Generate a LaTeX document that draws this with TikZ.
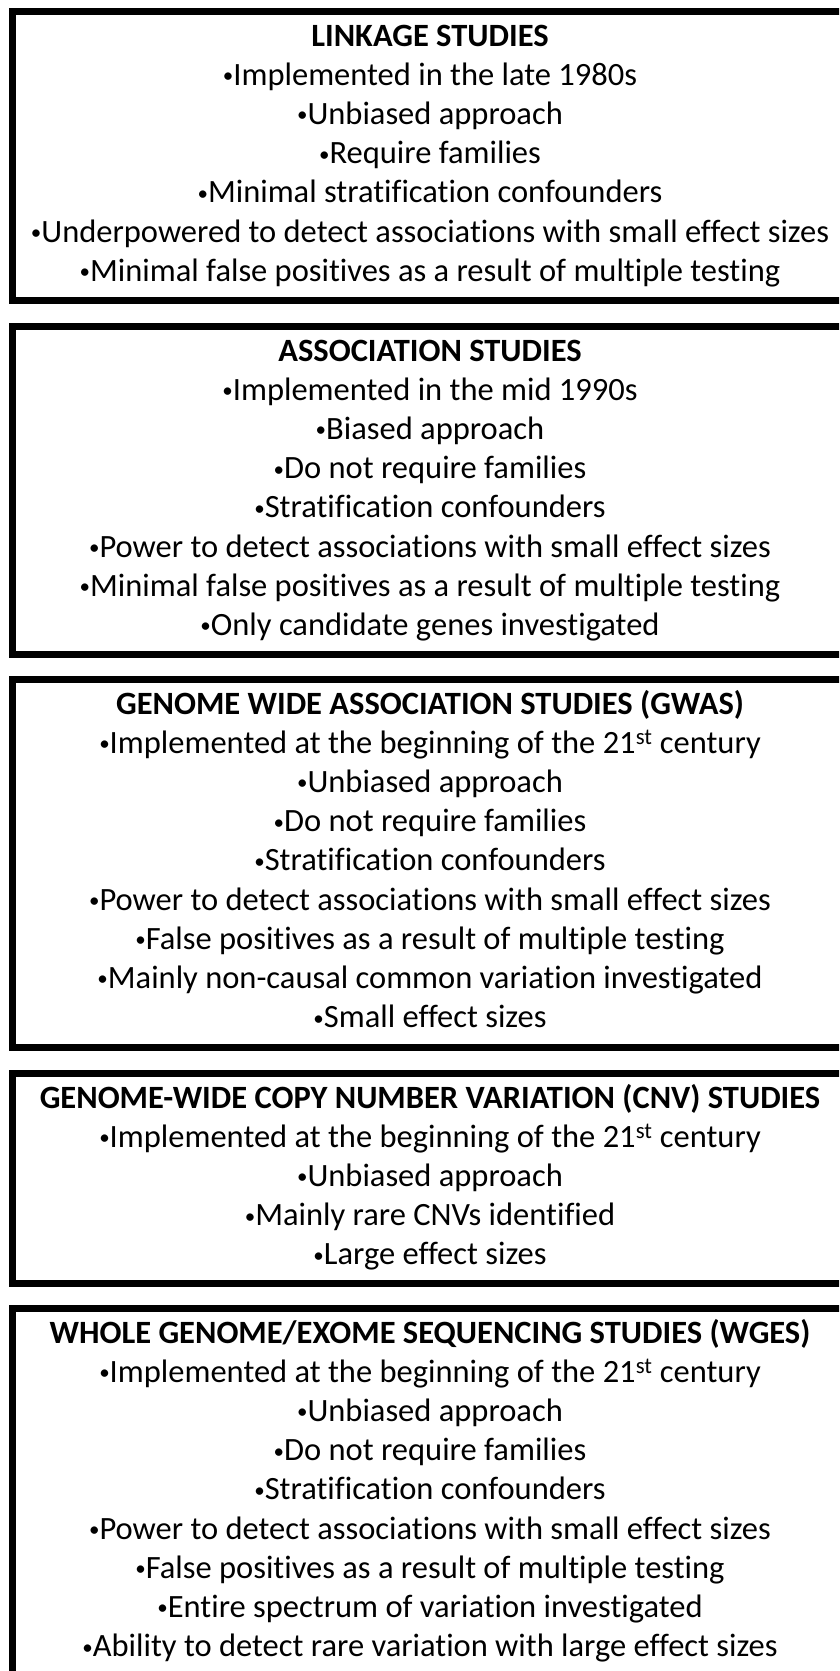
\documentclass[tikz,border=0pt]{standalone}
\usepackage{fontspec}
\setmainfont{Carlito}[Ligatures=NoCommon]
% small raised bullet placed in front of every item
\newcommand{\itemdot}{{\fontsize{21}{21}\selectfont\raisebox{2.5pt}{•}}}
% One framed panel: #1 id, #2 top edge, #3 bottom edge, #4 heading, #5 bullet items
\newcommand{\studypanel}[5]{%
  \node[heading] (#1-h) at (430,#2+35) {#4};
  \foreach \t [count=\i] in {#5} {
    \node[entry] (#1-\i) at (430,#2+35+\i*39.2) {\itemdot\t};
  }
  \draw[frame] (12.5,#2) rectangle (866,#3);
}
\begin{document}
\begin{tikzpicture}[x=1pt,y=-1pt,
  frame/.style={line width=7pt,draw=black},
  entry/.style={anchor=base,inner sep=0pt,font=\fontsize{32.5}{39}\selectfont},
  heading/.style={entry,font=\fontsize{32.5}{39}\selectfont\bfseries}]
\useasboundingbox (0,0) rectangle (839,1671);
\begin{scope}
\clip (0,0) rectangle (839,1671);
\studypanel{link}{11}{300}{LINKAGE STUDIES}{
  {Implemented in the late 1980s},
  {Unbiased approach},
  {Require families},
  {Minimal stratification confounders},
  {Underpowered to detect associations with small effect sizes},
  {Minimal false positives as a result of multiple testing}}
\studypanel{assoc}{326}{654}{ASSOCIATION STUDIES}{
  {Implemented in the mid 1990s},
  {Biased approach},
  {Do not require families},
  {Stratification confounders},
  {Power to detect associations with small effect sizes},
  {Minimal false positives as a result of multiple testing},
  {Only candidate genes investigated}}
\studypanel{gwas}{679}{1047}{GENOME WIDE ASSOCIATION STUDIES (GWAS)}{
  {Implemented at the beginning of the 21\textsuperscript{st} century},
  {Unbiased approach},
  {Do not require families},
  {Stratification confounders},
  {Power to detect associations with small effect sizes},
  {False positives as a result of multiple testing},
  {Mainly non-causal common variation investigated},
  {Small effect sizes}}
\studypanel{cnv}{1073}{1283}{GENOME-WIDE COPY NUMBER VARIATION (CNV) STUDIES}{
  {Implemented at the beginning of the 21\textsuperscript{st} century},
  {Unbiased approach},
  {Mainly rare CNVs identified},
  {Large effect sizes}}
\studypanel{wges}{1308}{1720}{WHOLE GENOME/EXOME SEQUENCING STUDIES (WGES)}{
  {Implemented at the beginning of the 21\textsuperscript{st} century},
  {Unbiased approach},
  {Do not require families},
  {Stratification confounders},
  {Power to detect associations with small effect sizes},
  {False positives as a result of multiple testing},
  {Entire spectrum of variation investigated},
  {Ability to detect rare variation with large effect sizes}}
\end{scope}
\end{tikzpicture}
\end{document}
